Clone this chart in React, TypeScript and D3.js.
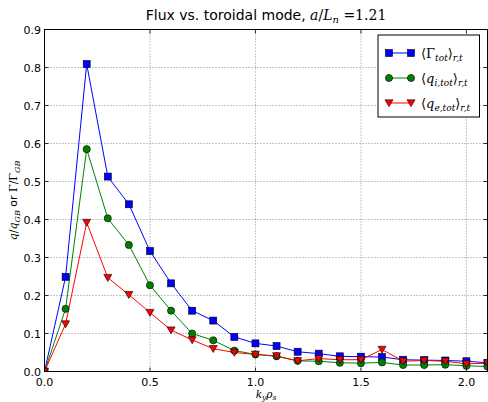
import React from "react";
import * as d3 from "d3";

const ky = [0, 0.1, 0.2, 0.3, 0.4, 0.5, 0.6, 0.7, 0.8, 0.9, 1.0, 1.1, 1.2, 1.3, 1.4, 1.5, 1.6, 1.7, 1.8, 1.9, 2.0, 2.1];
const gammaTot = [0, 0.249, 0.809, 0.513, 0.44, 0.317, 0.232, 0.16, 0.134, 0.091, 0.074, 0.067, 0.052, 0.047, 0.04, 0.039, 0.038, 0.031, 0.03, 0.029, 0.027, 0.023];
const qiTot = [0, 0.165, 0.585, 0.403, 0.333, 0.227, 0.16, 0.1, 0.082, 0.055, 0.045, 0.04, 0.028, 0.027, 0.023, 0.022, 0.024, 0.017, 0.017, 0.018, 0.015, 0.013];
const qeTot = [0, 0.125, 0.392, 0.247, 0.202, 0.155, 0.109, 0.083, 0.06, 0.05, 0.045, 0.041, 0.028, 0.034, 0.031, 0.031, 0.058, 0.027, 0.029, 0.027, 0.02, 0.022];
const xTicks = [0, 0.5, 1.0, 1.5, 2.0];
const yTicks = [0, 0.1, 0.2, 0.3, 0.4, 0.5, 0.6, 0.7, 0.8, 0.9];

const W = 488, H = 402;
const L = 44.5, R = 487.5, T = 29.5, B = 371.5;

const x = d3.scaleLinear().domain([0, 2.1]).range([L, R]);
const y = d3.scaleLinear().domain([0, 0.9]).range([B, T]);

const serif = "'DejaVu Serif', 'Liberation Serif', serif";
const sans = "'DejaVu Sans', sans-serif";

function Marker({ kind, cx, cy, color }: { kind: string; cx: number; cy: number; color: string }) {
  if (kind === "s") return <rect x={cx - 3.5} y={cy - 3.5} width={7} height={7} fill={color} stroke="#000" strokeWidth={0.6} />;
  if (kind === "o") return <circle cx={cx} cy={cy} r={3.6} fill={color} stroke="#000" strokeWidth={0.6} />;
  return <path d={`M${cx - 4},${cy - 3.2} L${cx + 4},${cy - 3.2} L${cx},${cy + 3.8} Z`} fill={color} stroke="#000" strokeWidth={0.6} />;
}

const series = [
  { vals: gammaTot, color: "#0000ff", kind: "s" },
  { vals: qiTot, color: "#008000", kind: "o" },
  { vals: qeTot, color: "#ff0000", kind: "v" },
];

export default function App() {
  const line = d3.line<number>().x((_, i) => x(ky[i])).y((d) => y(d));
  return (
    <svg width={W} height={H} style={{ position: "absolute", left: 0, top: 0, background: "#fff" }}>
      <defs>
        <clipPath id="plot">
          <rect x={L} y={T} width={R - L} height={B - T} />
        </clipPath>
      </defs>
      <rect x={0} y={0} width={W} height={H} fill="#fff" />
      {/* grid */}
      {xTicks.map((t) => (
        <line key={"gx" + t} x1={x(t)} x2={x(t)} y1={T} y2={B} stroke="#444" strokeWidth={0.6} strokeDasharray="1,2" />
      ))}
      {yTicks.map((t) => (
        <line key={"gy" + t} x1={L} x2={R} y1={y(t)} y2={y(t)} stroke="#444" strokeWidth={0.6} strokeDasharray="1,2" />
      ))}
      {/* data */}
      <g clipPath="url(#plot)">
        {series.map((s, si) => (
          <path key={"l" + si} d={line(s.vals) || ""} fill="none" stroke={s.color} strokeWidth={1} />
        ))}
        {series.map((s, si) =>
          s.vals.map((v, i) => <Marker key={"m" + si + "-" + i} kind={s.kind} cx={x(ky[i])} cy={y(v)} color={s.color} />)
        )}
      </g>
      {/* frame */}
      <rect x={L} y={T} width={R - L} height={B - T} fill="none" stroke="#000" strokeWidth={1} />
      {/* ticks */}
      {xTicks.map((t) => (
        <g key={"tx" + t}>
          <line x1={x(t)} x2={x(t)} y1={B} y2={B - 4} stroke="#000" strokeWidth={0.8} />
          <line x1={x(t)} x2={x(t)} y1={T} y2={T + 4} stroke="#000" strokeWidth={0.8} />
          <text x={x(t)} y={B + 14} textAnchor="middle" fontFamily={sans} fontSize={11}>
            {t.toFixed(1)}
          </text>
        </g>
      ))}
      {yTicks.map((t) => (
        <g key={"ty" + t}>
          <line x1={L} x2={L + 4} y1={y(t)} y2={y(t)} stroke="#000" strokeWidth={0.8} />
          <line x1={R} x2={R - 4} y1={y(t)} y2={y(t)} stroke="#000" strokeWidth={0.8} />
          <text x={L - 3.5} y={y(t) + 4} textAnchor="end" fontFamily={sans} fontSize={11}>
            {t.toFixed(1)}
          </text>
        </g>
      ))}
      {/* title */}
      <text x={(L + R) / 2} y={19.5} textAnchor="middle" fontSize={14}>
        <tspan fontFamily={sans}>Flux vs. toroidal mode, </tspan>
        <tspan fontFamily={serif} fontStyle="italic">a</tspan>
        <tspan fontFamily={serif}>/</tspan>
        <tspan fontFamily={serif} fontStyle="italic">L</tspan>
        <tspan fontFamily={serif} fontStyle="italic" fontSize={10} dy={3}>n</tspan>
        <tspan fontFamily={serif} dy={-3}> =1.21</tspan>
      </text>
      {/* x label */}
      <text x={(L + R) / 2} y={397.5} textAnchor="middle" fontFamily={serif} fontStyle="italic" fontSize={10.5}>
        <tspan>k</tspan>
        <tspan fontSize={7.5} dy={2}>y</tspan>
        <tspan dy={-2}>ρ</tspan>
        <tspan fontSize={7.5} dy={2}>s</tspan>
      </text>
      {/* y label */}
      <text transform={`translate(17,${(T + B) / 2}) rotate(-90)`} textAnchor="middle" fontSize={11}>
        <tspan fontFamily={serif} fontStyle="italic">q</tspan>
        <tspan fontFamily={serif}>/</tspan>
        <tspan fontFamily={serif} fontStyle="italic">q</tspan>
        <tspan fontFamily={serif} fontStyle="italic" fontSize={8} dy={3}>GB</tspan>
        <tspan fontFamily={sans} dy={-3}> or </tspan>
        <tspan fontFamily={serif}>Γ/Γ</tspan>
        <tspan fontFamily={serif} fontStyle="italic" fontSize={8} dy={3}>GB</tspan>
      </text>
      {/* legend */}
      <g>
        <rect x={378} y={35} width={101.5} height={82} fill="#fff" stroke="#000" strokeWidth={1} />
        {series.map((s, i) => {
          const ly = 53 + i * 25;
          const labels = [
            ["Γ", "tot"],
            ["q", "i,tot"],
            ["q", "e,tot"],
          ];
          return (
            <g key={"lg" + i}>
              <line x1={389} x2={411} y1={ly} y2={ly} stroke={s.color} strokeWidth={1} />
              <Marker kind={s.kind} cx={389} cy={ly} color={s.color} />
              <Marker kind={s.kind} cx={411} cy={ly} color={s.color} />
              <text x={421} y={ly + 5} fontFamily={serif} fontSize={13}>
                <tspan>⟨</tspan>
                <tspan fontStyle={labels[i][0] === "q" ? "italic" : "normal"}>{labels[i][0]}</tspan>
                <tspan fontStyle="italic" fontSize={9} dy={3}>{labels[i][1]}</tspan>
                <tspan dy={-3}>⟩</tspan>
                <tspan fontStyle="italic" fontSize={9} dy={3}>r,t</tspan>
              </text>
            </g>
          );
        })}
      </g>
    </svg>
  );
}
